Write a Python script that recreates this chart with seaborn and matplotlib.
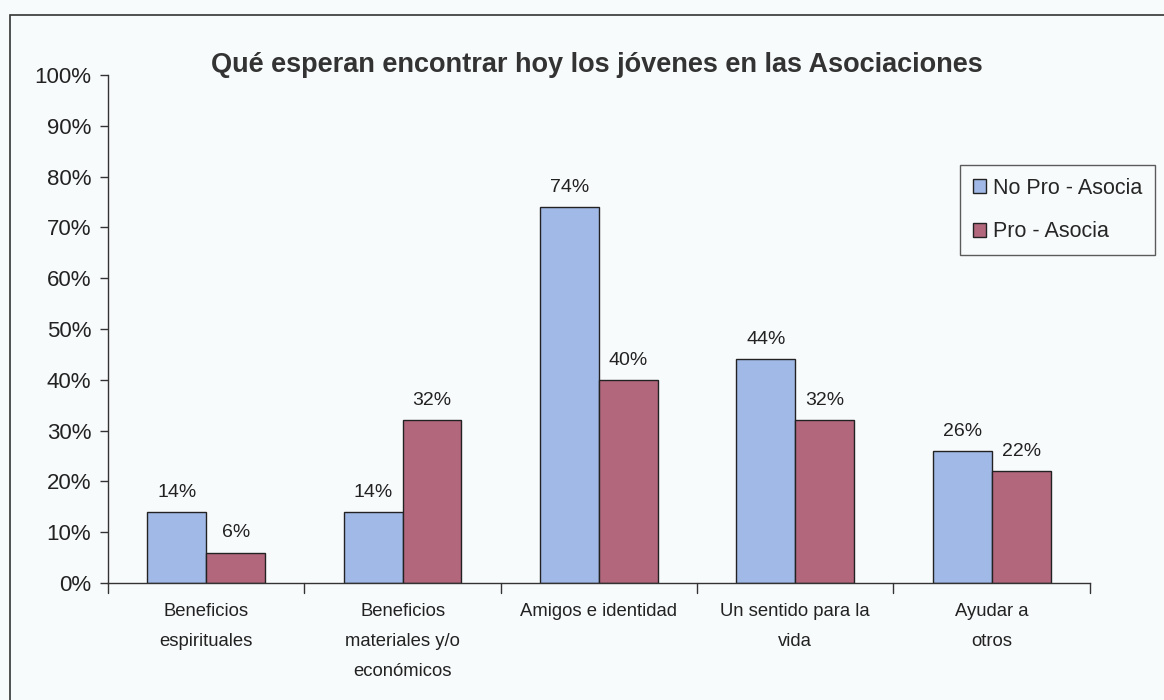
import matplotlib
matplotlib.use("Agg")
import matplotlib.pyplot as plt
from matplotlib.patches import Rectangle
import pandas as pd
import seaborn as sns

categories = [
    "Beneficios\nespirituales",
    "Beneficios\nmateriales y/o\necon\u00f3micos",
    "Amigos e identidad",
    "Un sentido para la\nvida",
    "Ayudar a\notros",
]
series_names = ["No Pro - Asocia", "Pro - Asocia"]
no_pro = [14, 14, 74, 44, 26]
pro = [6, 32, 40, 32, 22]
y_ticks = [0, 10, 20, 30, 40, 50, 60, 70, 80, 90, 100]

df = pd.DataFrame({
    "categoria": categories * 2,
    "grupo": [series_names[0]] * len(categories) + [series_names[1]] * len(categories),
    "valor": no_pro + pro,
})

sns.set_theme(style="white")
plt.rcParams["font.family"] = ["Liberation Sans", "DejaVu Sans"]

bg = "#f8fbfc"
fig = plt.figure(figsize=(11.64, 7.0), dpi=100, facecolor=bg)
ax = fig.add_axes([0.0928, 0.167, 0.8435, 0.726])
ax.set_facecolor(bg)

palette = {series_names[0]: "#a0b9e6", series_names[1]: "#b3677d"}
sns.barplot(data=df, x="categoria", y="valor", hue="grupo", palette=palette,
            width=0.6, edgecolor="#222222", linewidth=1.0, saturation=1,
            ax=ax, legend=True)

for container in ax.containers:
    ax.bar_label(container, labels=[f"{v:.0f}%" for v in container.datavalues],
                 padding=8, fontsize=14, color="#222222")

ax.set_ylim(0, 100)
ax.set_xlim(-0.5, len(categories) - 0.5)
ax.set_yticks(y_ticks)
ax.set_yticklabels([f"{t}%" for t in y_ticks], fontsize=16, color="#222222")
ax.set_xticks(range(len(categories)))
ax.set_xticklabels(categories, fontsize=13.3, color="#222222", linespacing=2.0, va="top")
ax.tick_params(axis="x", length=0, pad=14)
ax.tick_params(axis="y", left=True, length=6, width=1, color="#333333", pad=6)
ax.set_xlabel("")
ax.set_ylabel("")

# category separator ticks on the x axis
for b in [i - 0.5 for i in range(len(categories) + 1)]:
    ax.plot([b, b], [0, -0.02], transform=ax.get_xaxis_transform(),
            color="#333333", lw=1, clip_on=False)

for side in ["top", "right"]:
    ax.spines[side].set_visible(False)
for side in ["left", "bottom"]:
    ax.spines[side].set_color("#333333")
    ax.spines[side].set_linewidth(1)

fig.text(0.513, 0.907, "Qu\u00e9 esperan encontrar hoy los j\u00f3venes en las Asociaciones",
         fontsize=19.5, fontweight="bold", color="#333333", ha="center", va="center")

leg = ax.legend(loc="upper left", bbox_to_anchor=(0.868, 0.823), fontsize=15.5,
                frameon=True, fancybox=False, edgecolor="#333333",
                handlelength=0.6, handleheight=0.6, handletextpad=0.3,
                borderpad=0.6, labelspacing=1.05, facecolor=bg, borderaxespad=0)
leg.get_frame().set_linewidth(1)

# outer chart frame
fig.patches.append(Rectangle((0.009, -0.05), 1.2, 1.029, transform=fig.transFigure,
                             fill=False, edgecolor="#333333", lw=1.2))

fig.savefig("out.png", dpi=100, facecolor=bg)
